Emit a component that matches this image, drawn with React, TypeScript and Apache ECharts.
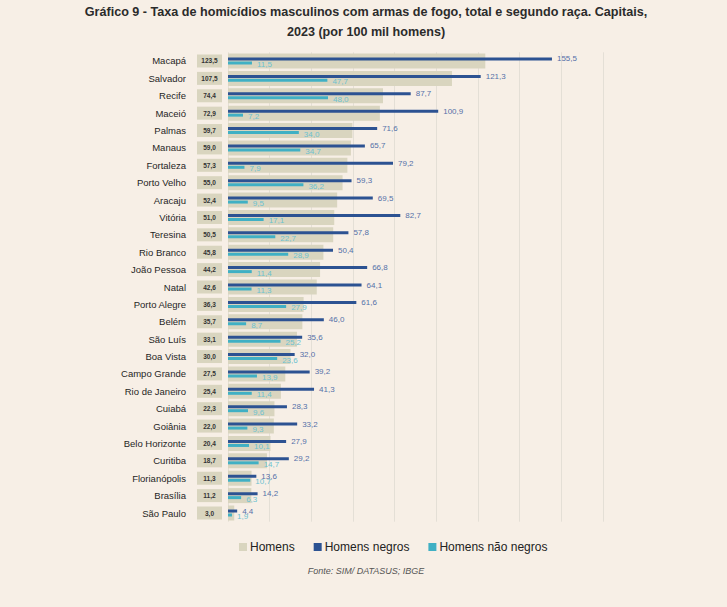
import React, { useEffect, useRef } from "react";
import * as echarts from "echarts";

const cities = [
  "Macapá", "Salvador", "Recife", "Maceió", "Palmas", "Manaus", "Fortaleza",
  "Porto Velho", "Aracaju", "Vitória", "Teresina", "Rio Branco", "João Pessoa",
  "Natal", "Porto Alegre", "Belém", "São Luís", "Boa Vista", "Campo Grande",
  "Rio de Janeiro", "Cuiabá", "Goiânia", "Belo Horizonte", "Curitiba",
  "Florianópolis", "Brasília", "São Paulo",
];
const homens = [
  123.5, 107.5, 74.4, 72.9, 59.7, 59.0, 57.3, 55.0, 52.4, 51.0, 50.5, 45.8, 44.2,
  42.6, 36.3, 35.7, 33.1, 30.0, 27.5, 25.4, 22.3, 22.0, 20.4, 18.7, 11.3, 11.2, 3.0,
];
const homensNegros = [
  155.5, 121.3, 87.7, 100.9, 71.6, 65.7, 79.2, 59.3, 69.5, 82.7, 57.8, 50.4, 66.8,
  64.1, 61.6, 46.0, 35.6, 32.0, 39.2, 41.3, 28.3, 33.2, 27.9, 29.2, 13.6, 14.2, 4.4,
];
const homensNaoNegros = [
  11.5, 47.7, 48.0, 7.2, 34.0, 34.7, 7.9, 36.2, 9.5, 17.1, 22.7, 28.9, 11.4,
  11.3, 27.9, 8.7, 25.2, 23.6, 13.9, 11.4, 9.6, 9.3, 10.1, 14.7, 10.7, 6.3, 1.9,
];
const seriesNames = ["Homens", "Homens negros", "Homens não negros"];
const titleLines = [
  "Gráfico 9 - Taxa de homicídios masculinos com armas de fogo, total e segundo raça. Capitais,",
  "2023 (por 100 mil homens)",
];

const fmt = (v: number) => v.toFixed(1).replace(".", ",");

const BG = "#f7efe6";
const TAN = "#d9d5bf";
const NAVY = "#2c5292";
const TEAL = "#40b0c4";
const FONT = "Liberation Sans, Arial, sans-serif";

export default function App() {
  const ref = useRef<HTMLDivElement>(null);
  useEffect(() => {
    document.body.style.margin = "0";
    const chart = echarts.init(ref.current!, undefined, { renderer: "svg" });
    chart.setOption({
      animation: false,
      backgroundColor: BG,
      textStyle: { fontFamily: FONT },
      legend: {
        data: seriesNames,
        left: 234,
        top: 536,
        icon: "rect",
        itemWidth: 8,
        itemHeight: 8,
        itemGap: 19,
        textStyle: { fontFamily: FONT, fontSize: 12, color: "#222", padding: [0, 0, 0, -2] },
      },
      graphic: [
        ...titleLines.map((t, i) => ({
          type: "text",
          x: 366,
          y: 12 + i * 20,
          style: {
            text: t,
            font: `bold 12.6px ${FONT}`,
            fill: "#2b2b2b",
            textAlign: "center",
            textVerticalAlign: "middle",
          },
        })),
        {
          type: "text",
          x: 366,
          y: 571,
          style: {
            text: "Fonte: SIM/ DATASUS; IBGE",
            font: `italic 9px ${FONT}`,
            fill: "#555",
            textAlign: "center",
            textVerticalAlign: "middle",
          },
        },
      ],
      grid: { left: 228, right: 124, top: 52.3, bottom: 85.3 },
      xAxis: {
        type: "value",
        min: 0,
        max: 180,
        interval: 20,
        axisLabel: { show: false },
        axisLine: { show: false },
        axisTick: { show: false },
        splitLine: { show: true, lineStyle: { color: "#e4dfd6", width: 1 } },
      },
      yAxis: [
        {
          type: "category",
          inverse: true,
          data: cities,
          axisLine: { show: false },
          axisTick: { show: false },
          axisLabel: { margin: 42, fontSize: 9.5, color: "#1f1f1f", fontFamily: FONT },
        },
        {
          type: "category",
          inverse: true,
          data: cities,
          show: false,
        },
      ],
      series: [
        {
          name: seriesNames[0],
          type: "bar",
          yAxisIndex: 0,
          data: homens,
          barWidth: 15,
          itemStyle: { color: TAN },
          label: {
            show: true,
            position: "left",
            distance: 6,
            formatter: (p: any) => `{b|${fmt(p.value)}}`,
            rich: {
              b: {
                width: 25,
                height: 13,
                lineHeight: 13,
                align: "center",
                backgroundColor: TAN,
                fontSize: 6.5,
                fontWeight: "bold",
                color: "#333",
                fontFamily: FONT,
              },
            },
          },
        },
        {
          name: seriesNames[1],
          type: "bar",
          yAxisIndex: 1,
          data: homensNegros,
          barWidth: 3,
          barGap: "33%",
          itemStyle: { color: NAVY },
          label: {
            show: true,
            position: "right",
            distance: 5,
            fontSize: 8,
            color: "#5470a8",
            fontFamily: FONT,
            formatter: (p: any) => fmt(p.value),
          },
        },
        {
          name: seriesNames[2],
          type: "bar",
          yAxisIndex: 1,
          data: homensNaoNegros,
          barWidth: 3,
          barGap: "33%",
          itemStyle: { color: TEAL },
          label: {
            show: true,
            position: "right",
            distance: 5,
            offset: [0, 1.5],
            fontSize: 8,
            color: "#6cc2d1",
            fontFamily: FONT,
            formatter: (p: any) => fmt(p.value),
          },
        },
      ],
    });
    return () => chart.dispose();
  }, []);
  return <div ref={ref} style={{ width: 727, height: 607, background: BG }} />;
}
